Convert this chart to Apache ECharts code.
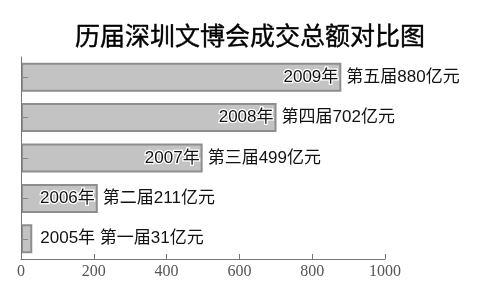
<!DOCTYPE html>
<html><head><meta charset="utf-8">
<script src="https://cdn.jsdelivr.net/npm/echarts@6/dist/echarts.min.js"></script>
<style>html,body{margin:0;padding:0;background:#fff}#c{width:500px;height:294px}</style>
</head><body><div id="c"></div>
<script>
const years = ['2009', '2008', '2007', '2006', '2005'];
const editions = ['第五届', '第四届', '第三届', '第二届', '第一届'];
const values = [880, 702, 499, 211, 31];
const xTicks = [0, 200, 400, 600, 800, 1000];

const sans = '"Liberation Sans", "Noto Sans CJK SC", sans-serif';
const chart = echarts.init(document.getElementById('c'));
const small = (i) => values[i] < 100;

chart.setOption({
  animation: false,
  title: {
    text: '历届深圳文博会成交总额对比图', left: 'center', top: 21,
    textStyle: { fontSize: 25, fontWeight: 'normal', color: '#000', fontFamily: sans, textBorderColor: '#000', textBorderWidth: 0.4 }
  },
  grid: { left: 21, right: 115, top: 57, bottom: 35 },
  xAxis: {
    type: 'value', min: xTicks[0], max: xTicks[xTicks.length - 1], interval: 200,
    axisLine: { show: true, lineStyle: { color: '#777', width: 1 } },
    axisTick: { show: true, inside: true, length: 5, lineStyle: { color: '#777' } },
    splitLine: { show: false },
    axisLabel: { color: '#555', fontSize: 16, fontFamily: '"Liberation Serif", serif', margin: 5,
      formatter: (v) => String(v) }
  },
  yAxis: {
    type: 'category', data: years, inverse: true, z: 5,
    axisLine: { show: true, lineStyle: { color: '#777', width: 1 } },
    axisTick: { show: true, inside: true, length: 7, alignWithLabel: true, lineStyle: { color: '#888' } },
    axisLabel: { show: false }
  },
  series: [
    {
      type: 'bar', barWidth: 29, z: 2,
      itemStyle: { color: '#c3c3c3', borderColor: '#8e8e8e', borderWidth: 2 },
      data: values.map((v, i) => ({
        value: v,
        label: {
          show: true, position: 'right', distance: small(i) ? 8 : 5,
          formatter: (small(i) ? years[i] + '年 ' : '') + editions[i] + v + '亿元',
          color: '#111', fontSize: 17, fontFamily: sans
        }
      }))
    },
    {
      type: 'bar', barWidth: 29, barGap: '-100%', z: 3,
      itemStyle: { color: 'rgba(0,0,0,0)', borderWidth: 0 },
      data: values.map((v, i) => ({
        value: v,
        label: {
          show: !small(i), position: 'insideRight', distance: 3,
          formatter: years[i] + '年',
          color: '#111', fontSize: 17, fontFamily: sans,
          textBorderColor: '#fff', textBorderWidth: 2.5
        }
      }))
    }
  ]
});
</script></body></html>
